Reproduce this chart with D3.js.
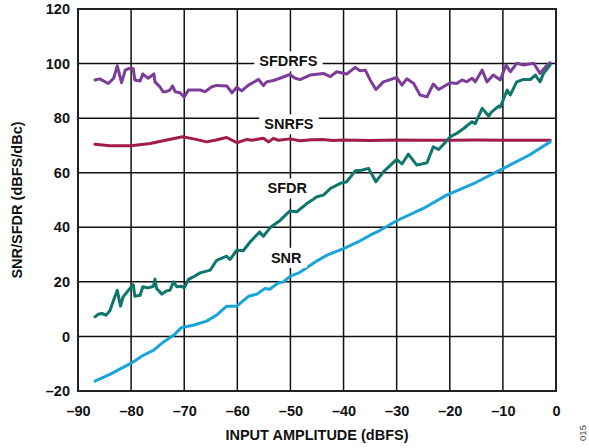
<!DOCTYPE html>
<html>
<head>
<meta charset="utf-8">
<script src="https://cdn.jsdelivr.net/npm/d3@7"></script>
<style>
  body { margin: 0; background: #fff; }
  svg { font-family: "Liberation Sans", Arial, sans-serif; }
</style>
</head>
<body>
<svg width="589" height="448"></svg>
<script>
// tick values
const xTicks = [-90, -80, -70, -60, -50, -40, -30, -20, -10, 0];
const yTicks = [-20, 0, 20, 40, 60, 80, 100, 120];

// series (input amplitude dBFS, value dB)
const sfdrfsX = [-86.8, -85.9, -84.3, -83.3, -82.6, -81.8, -81.1, -80.5, -79.6, -79.3, -78.3, -77.8, -76.8, -75.7, -75.5, -74.6, -74.0, -73.4, -72.7, -72.2, -71.7, -70.8, -70.0, -69.2, -67.0, -66.1, -64.8, -63.9, -62.0, -61.0, -60.1, -59.2, -57.9, -56.0, -55.1, -54.5, -53.2, -51.6, -50.1, -49.1, -48.2, -46.3, -43.8, -42.5, -41.3, -39.4, -37.8, -36.9, -35.9, -35.0, -33.9, -32.5, -30.0, -29.0, -28.1, -26.8, -25.6, -24.3, -23.1, -22.1, -19.9, -18.7, -17.7, -16.8, -15.8, -15.2, -13.9, -13.0, -11.8, -10.5, -9.4, -8.6, -7.4, -6.1, -4.2, -3.0, -2.0, -1.1];
const sfdrfsY = [94.0, 94.4, 92.7, 94.6, 99.2, 93.0, 97.6, 98.2, 98.1, 94.0, 93.6, 96.2, 94.6, 96.2, 93.3, 91.5, 89.7, 89.7, 90.3, 91.8, 89.7, 89.3, 87.8, 90.3, 90.3, 89.7, 91.5, 92.0, 91.8, 89.3, 91.3, 90.0, 92.1, 94.2, 91.9, 93.3, 93.8, 94.9, 96.0, 94.6, 94.1, 95.8, 96.4, 95.2, 97.0, 96.2, 98.6, 97.4, 97.6, 94.0, 90.5, 93.3, 94.9, 92.1, 94.4, 92.7, 88.5, 87.8, 92.5, 90.5, 93.0, 92.7, 94.0, 93.3, 94.6, 93.3, 97.6, 93.3, 95.8, 94.0, 99.5, 97.0, 100.1, 99.5, 100.1, 96.4, 98.8, 100.3];

const snrfsX = [-86.8, -84, -80, -76.4, -73.3, -70.3, -68, -65.8, -64, -62, -60.1, -58.2, -57.3, -55.1, -54.1, -53.2, -52.3, -50.1, -48.2, -46, -44, -42, -40, -35, -30, -25, -20, -15, -10, -5, -1.1];
const snrfsY = [70.4, 69.9, 69.9, 70.7, 72.0, 73.2, 72.3, 71.3, 72.0, 72.9, 71.0, 72.2, 71.9, 72.6, 71.3, 72.6, 71.9, 72.4, 71.7, 72.1, 72.2, 71.8, 72.0, 71.8, 72.0, 71.9, 71.9, 72.0, 71.9, 71.9, 71.9];

const sfdrX = [-86.8, -86.2, -85.5, -84.7, -84.0, -83.3, -82.6, -82.0, -81.5, -80.5, -79.6, -79.3, -78.3, -77.8, -76.8, -75.8, -75.5, -75.2, -74.2, -73.3, -72.7, -72.0, -71.4, -70.5, -70.0, -69.2, -68.3, -67.0, -65.1, -63.9, -62.0, -61.4, -61.0, -60.1, -58.9, -57.6, -55.8, -55.1, -53.8, -51.9, -50.1, -48.8, -46.9, -45.0, -43.8, -42.5, -40.6, -39.4, -37.8, -36.6, -35.3, -33.9, -32.5, -30.0, -29.0, -27.8, -26.2, -24.3, -23.1, -22.1, -20.9, -19.9, -18.7, -17.4, -15.8, -15.2, -13.9, -12.7, -12.1, -10.8, -10.5, -9.2, -8.6, -7.4, -6.1, -4.8, -3.9, -3.0, -2.4, -1.1];
const sfdrY = [7.2, 8.1, 8.4, 7.8, 9.4, 13.3, 16.9, 11.1, 14.5, 16.9, 19.0, 14.7, 15.1, 18.2, 17.8, 18.4, 21.0, 17.6, 15.5, 16.7, 16.9, 20.0, 18.2, 18.4, 17.8, 20.9, 21.8, 23.3, 24.3, 27.9, 29.4, 28.2, 29.2, 31.6, 31.4, 34.6, 38.3, 36.7, 39.9, 42.6, 46.0, 45.7, 48.7, 51.2, 51.8, 54.2, 56.1, 56.7, 60.7, 60.9, 61.6, 56.7, 60.3, 64.9, 63.2, 66.8, 62.8, 63.6, 69.5, 68.5, 71.0, 73.2, 74.4, 76.2, 78.7, 78.0, 83.6, 80.8, 82.3, 84.4, 84.0, 90.3, 88.5, 93.3, 94.2, 94.2, 95.8, 93.3, 96.2, 99.5];

const snrX = [-86.8, -84, -79.9, -77.7, -75.8, -73.9, -72.0, -70.5, -68.3, -65.8, -63.9, -62.0, -60.1, -57.9, -56.3, -54.8, -53.9, -52.3, -51.3, -50.1, -48.2, -45.0, -43.1, -40.0, -36.9, -35.0, -33.1, -30.0, -25, -20.6, -15, -9.9, -5, -1.1];
const snrY = [-16.4, -13.9, -9.7, -6.9, -5.1, -2.0, 0.4, 3.3, 4.1, 5.6, 7.8, 11.1, 11.1, 14.7, 15.5, 17.6, 17.3, 19.6, 20.0, 22.0, 23.5, 27.7, 29.8, 32.2, 35.0, 37.1, 38.9, 42.4, 46.9, 51.8, 56.5, 61.6, 66.5, 71.3];

const seriesNames = ["SFDRFS", "SNRFS", "SFDR", "SNR"];
const labelX = [-50.4, -50.3, -50.6, -50.8];
const labelY = [100.9, 77.8, 54.3, 28.9];

const svg = d3.select("svg");
const margin = { top: 9, right: 33, bottom: 57, left: 78 };
const width = +svg.attr("width") - margin.left - margin.right;
const height = +svg.attr("height") - margin.top - margin.bottom;

const g = svg.append("g").attr("transform", `translate(${margin.left},${margin.top})`);

const x = d3.scaleLinear().domain([-90, 0]).range([0, width]);
const y = d3.scaleLinear().domain([-20, 120]).range([height, 0]);

const fmt = (d) => (d < 0 ? "\u2013" + Math.abs(d) : "" + d);

// grid
g.append("g")
  .selectAll("line")
  .data(xTicks)
  .join("line")
  .attr("x1", (d) => x(d))
  .attr("x2", (d) => x(d))
  .attr("y1", 0)
  .attr("y2", height)
  .attr("stroke", "#111")
  .attr("stroke-width", 1.5);

g.append("g")
  .selectAll("line")
  .data(yTicks)
  .join("line")
  .attr("x1", 0)
  .attr("x2", width)
  .attr("y1", (d) => y(d))
  .attr("y2", (d) => y(d))
  .attr("stroke", "#111")
  .attr("stroke-width", 1.5);

// axes (labels only)
const xAxis = g.append("g")
  .attr("transform", `translate(0,${height})`)
  .call(d3.axisBottom(x).tickValues(xTicks).tickFormat(fmt).tickSize(0).tickPadding(15));
const yAxis = g.append("g")
  .call(d3.axisLeft(y).tickValues(yTicks).tickFormat(fmt).tickSize(0).tickPadding(8));
[xAxis, yAxis].forEach((a) => {
  a.select(".domain").remove();
  a.selectAll("text")
    .attr("fill", "#111")
    .style("font-size", "14.5px")
    .style("font-weight", "bold");
});

// frame
g.append("rect")
  .attr("width", width)
  .attr("height", height)
  .attr("fill", "none")
  .attr("stroke", "#222")
  .attr("stroke-width", 2);

// series lines
const series = [
  { xs: sfdrfsX, ys: sfdrfsY, color: "#7b3d97" },
  { xs: snrfsX, ys: snrfsY, color: "#a11b4d" },
  { xs: sfdrX, ys: sfdrY, color: "#0f766b" },
  { xs: snrX, ys: snrY, color: "#1aa5d8" },
];

const line = d3.line()
  .x((d) => x(d[0]))
  .y((d) => y(d[1]));

series.forEach((s) => {
  g.append("path")
    .datum(d3.zip(s.xs, s.ys))
    .attr("d", line)
    .attr("fill", "none")
    .attr("stroke", s.color)
    .attr("stroke-width", 3)
    .attr("stroke-linejoin", "round")
    .attr("stroke-linecap", "round");
});

// series labels with white box behind
seriesNames.forEach((name, i) => {
  const lg = g.append("g");
  const bg = lg.append("rect").attr("fill", "#fff");
  const t = lg.append("text")
    .attr("x", x(labelX[i]))
    .attr("y", y(labelY[i]))
    .attr("text-anchor", "middle")
    .attr("dy", "0.36em")
    .attr("fill", "#111")
    .style("font-size", "14.5px")
    .style("font-weight", "bold")
    .text(name);
  const b = t.node().getBBox();
  bg.attr("x", b.x - 5)
    .attr("y", b.y - 2)
    .attr("width", b.width + 10)
    .attr("height", b.height + 4);
});

// axis titles
svg.append("text")
  .attr("x", margin.left + width / 2)
  .attr("y", 440)
  .attr("text-anchor", "middle")
  .attr("fill", "#111")
  .style("font-size", "14.5px")
  .style("font-weight", "bold")
  .text("INPUT AMPLITUDE (dBFS)");

svg.append("text")
  .attr("transform", `translate(22,${margin.top + height / 2}) rotate(-90)`)
  .attr("text-anchor", "middle")
  .attr("fill", "#111")
  .style("font-size", "14.5px")
  .style("font-weight", "bold")
  .text("SNR/SFDR (dBFS/dBc)");

svg.append("text")
  .attr("transform", "translate(586,433) rotate(-90)")
  .attr("text-anchor", "middle")
  .attr("fill", "#444")
  .style("font-size", "9.5px")
  .text("015");
</script>
</body>
</html>
